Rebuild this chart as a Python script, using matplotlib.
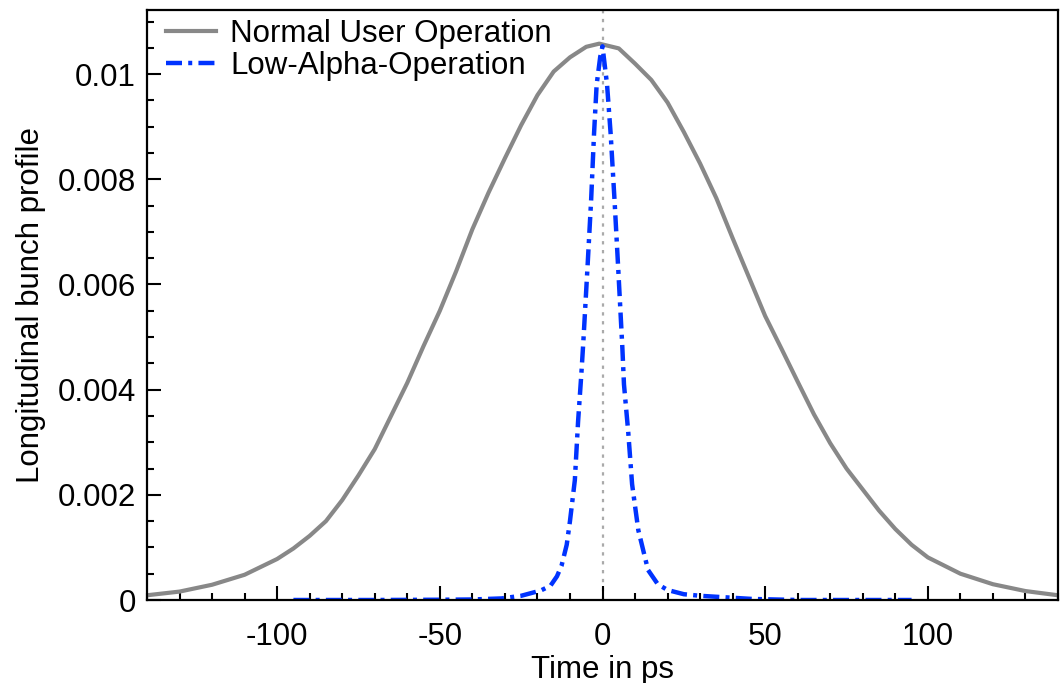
import matplotlib
matplotlib.use("Agg")
import matplotlib.pyplot as plt
from matplotlib.ticker import MultipleLocator, FormatStrFormatter

plt.rcParams['font.family'] = ['Liberation Sans', 'DejaVu Sans']
plt.rcParams['axes.unicode_minus'] = False

# normal user operation
t_normal = [-140, -130, -120, -110, -100, -95, -90, -85, -80, -75, -70, -65,
            -60, -55, -50, -45, -40, -35, -30, -25, -20, -15, -10, -5, -1,
            5, 10, 15, 20, 25, 30, 35, 40, 45, 50, 55, 60, 65, 70, 75, 80, 85,
            90, 95, 100, 110, 120, 130, 140]
y_normal = [0.00009, 0.00016, 0.00029, 0.00048, 0.00078, 0.00098, 0.00122,
            0.0015, 0.0019, 0.00237, 0.00287, 0.0035, 0.00413, 0.00483,
            0.0055, 0.00625, 0.00705, 0.00775, 0.0084, 0.00903, 0.0096,
            0.01005, 0.01032, 0.01052, 0.01058,
            0.01049, 0.0102, 0.00989, 0.00946, 0.0089, 0.0083, 0.00764,
            0.00688, 0.00614, 0.0054, 0.00478, 0.00415, 0.00353, 0.00298,
            0.0025, 0.0021, 0.0017, 0.00135, 0.00105, 0.00081, 0.0005,
            0.0003, 0.00017, 0.00009]

# low-alpha operation
t_low = [-95, -70, -50, -40, -31, -25, -22, -19, -16, -14, -12.6, -11, -10,
         -8.5, -7.5, -6.5, -5.9, -4.6, -3.5, -2.6, -1.8, -0.7, 0, 1.4, 2.5,
         3.7, 4.8, 6.1, 6.6, 7.9, 9.1, 11, 14, 17, 20, 25, 30, 38, 46, 60, 95]
y_low = [0.0, 0.0, 0.000005, 0.00001, 0.00003, 0.00008, 0.00013, 0.00018,
         0.00027, 0.00045, 0.00065, 0.00105, 0.0015, 0.00228, 0.0034, 0.0043,
         0.0049, 0.00634, 0.0076, 0.00887, 0.0098, 0.01033, 0.01053, 0.0098,
         0.00887, 0.0076, 0.00634, 0.0048, 0.0041, 0.0032, 0.0022, 0.00133,
         0.00057, 0.0003, 0.00019, 0.00011, 0.00008, 0.00005, 0.00002, 0.0,
         0.0]

fig = plt.figure(figsize=(10.61, 6.83), dpi=100)
ax = fig.add_axes([147 / 1061, 1 - 600 / 683, 911 / 1061, 590 / 683])

ax.axvline(0, color='#aaaaaa', lw=1.6, ls=(0, (1.5, 2.5)), zorder=1)
ax.plot(t_normal, y_normal, color='#888888', lw=3, label='Normal User Operation')
ax.plot(t_low, y_low, color='#0033ff', lw=3.2, ls=(0, (3.6, 1.4, 0.9, 1.4)),
        label='Low-Alpha-Operation')

ax.set_xlim(-140, 140)
ax.set_ylim(0, 0.01122)
ax.xaxis.set_major_locator(MultipleLocator(50))
ax.xaxis.set_minor_locator(MultipleLocator(10))
ax.yaxis.set_major_locator(MultipleLocator(0.002))
ax.yaxis.set_minor_locator(MultipleLocator(0.0005))
ax.yaxis.set_major_formatter(FormatStrFormatter('%g'))
ax.tick_params(which='both', direction='in', top=False, right=False,
               labelsize=22.5, width=1.5)
ax.tick_params(which='major', length=10)
ax.tick_params(which='minor', length=5)
ax.tick_params(axis='x', which='major', pad=16)
ax.tick_params(axis='y', which='major', pad=8)
for s in ax.spines.values():
    s.set_linewidth(1.6)

ax.set_xlabel('Time in ps', fontsize=22.5, labelpad=2)
ax.set_ylabel('Longitudinal bunch profile', fontsize=22.5, labelpad=8)

ax.legend(loc='upper left', frameon=False, fontsize=22.5, handlelength=1.6,
          handletextpad=0.45, labelspacing=0.05, borderaxespad=0.1,
          borderpad=0.2, bbox_to_anchor=(0.011, 1.0))

fig.savefig('out.png', dpi=100)
